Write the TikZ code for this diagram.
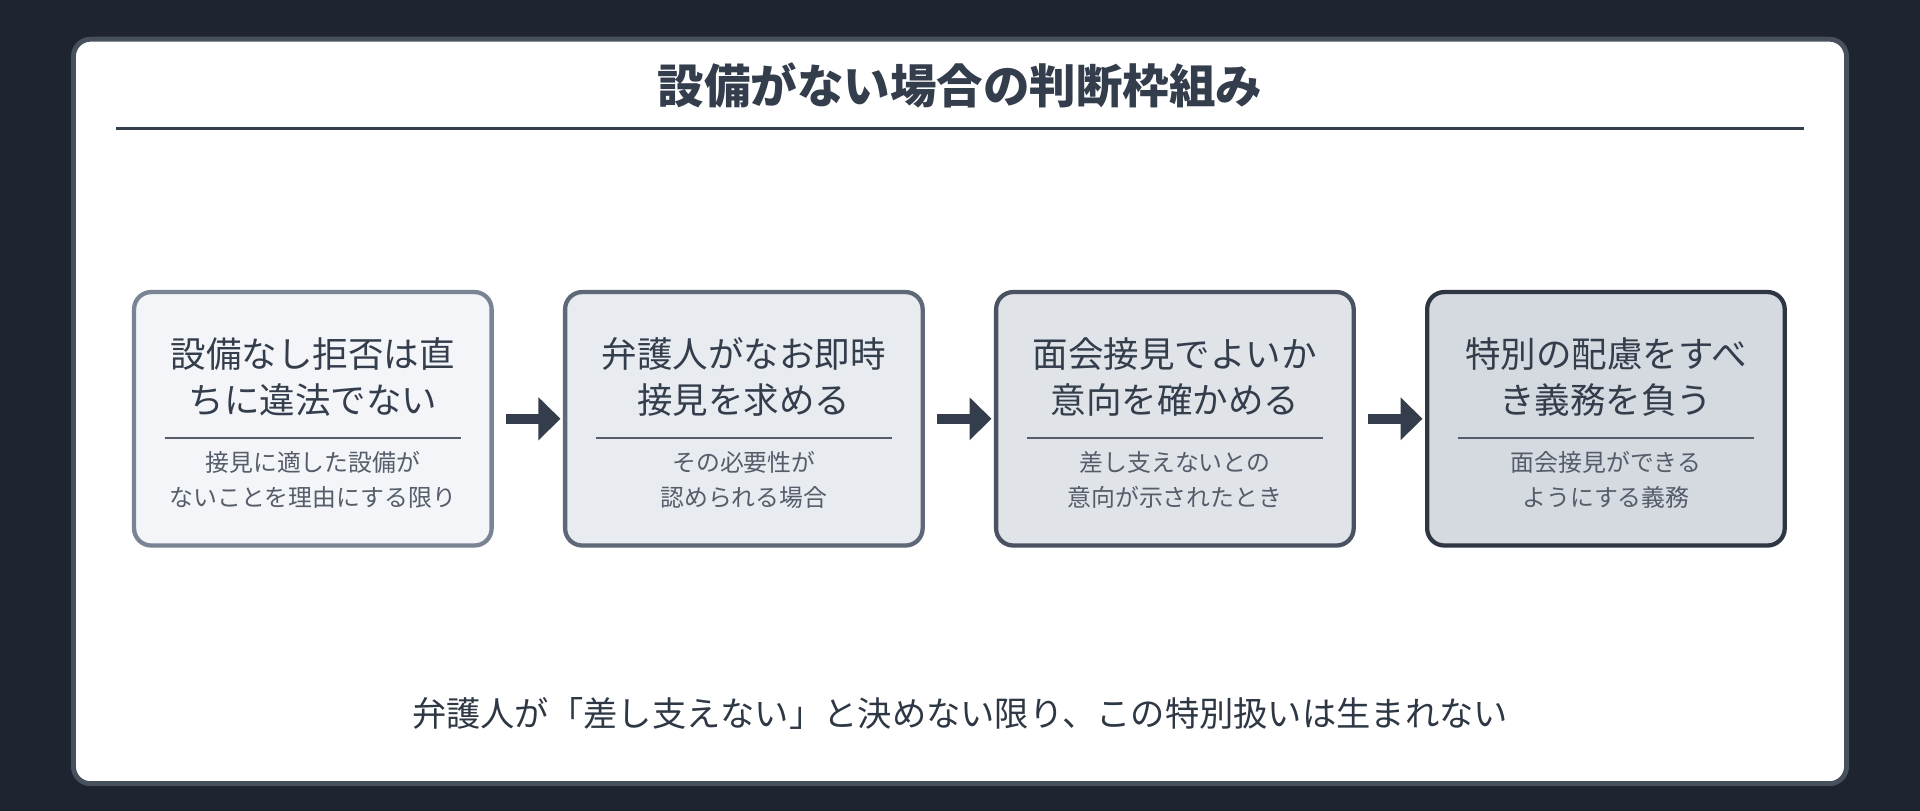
\documentclass[tikz,border=0pt]{standalone}
\usepackage{fontspec}
\setmainfont{Noto Sans CJK JP}
\usetikzlibrary{arrows.meta}
\definecolor{bg}{HTML}{1E2430}
\definecolor{ink}{HTML}{333D4B}
\definecolor{sub}{HTML}{555D6A}
\begin{document}
\begin{tikzpicture}[x=1pt,y=-1pt,
  box/.style={draw, line width=3.5pt, rounded corners=14pt, minimum width=292pt, minimum height=207pt, inner sep=0pt},
  main/.style={font=\fontsize{29}{38}\selectfont, text=ink, align=center},
  subt/.style={font=\fontsize{19.5}{29}\selectfont, text=sub, align=center},
  arr/.style={draw=ink, line width=8pt, -{Triangle[length=18pt,width=34pt]}}]
\fill[bg] (0,0) rectangle (1568,662);
\useasboundingbox (0,0) rectangle (1568,662);
\draw[draw=ink!90, line width=4pt, fill=white, rounded corners=14pt] (60,32) rectangle (1508,640);
\node[font=\bfseries\fontsize{38}{44}\selectfont, text=ink] (title) at (784,70) {設備がない場合の判断枠組み};
\draw[ink, line width=2pt] (95,105) -- (1473,105);
\foreach \i/\x/\f/\d/\a/\b/\c/\e in {
 1/255.5/F3F5F8/7B8494/設備なし拒否は直/ちに違法でない/接見に適した設備が/ないことを理由にする限り,
 2/607.5/E8EBEF/5F6878/弁護人がなお即時/接見を求める/その必要性が/認められる場合,
 3/959.5/E0E3E8/4A5262/面会接見でよいか/意向を確かめる/差し支えないとの/意向が示されたとき,
 4/1311.5/D5D9E0/2E3644/特別の配慮をすべ/き義務を負う/面会接見ができる/ようにする義務}{
  \definecolor{f\i}{HTML}{\f}\definecolor{d\i}{HTML}{\d}
  \node[box, fill=f\i, draw=d\i] (b\i) at (\x,342) {};
  \node[main] (m\i) at (\x,308) {\a\\\b};
  \draw[sub, line width=1.5pt] (\x-121,358) -- (\x+121,358);
  \node[subt] (s\i) at (\x,392) {\c\\\e};
}
\draw[arr] ([xshift=10pt]b1.east) -- ([xshift=-2pt]b2.west);
\draw[arr] ([xshift=10pt]b2.east) -- ([xshift=-2pt]b3.west);
\draw[arr] ([xshift=10pt]b3.east) -- ([xshift=-2pt]b4.west);
\node[font=\fontsize{28}{34}\selectfont, text=ink!90!black] (foot) at (784,583) {弁護人が「差し支えない」と決めない限り、この特別扱いは生まれない};
\end{tikzpicture}
\end{document}
